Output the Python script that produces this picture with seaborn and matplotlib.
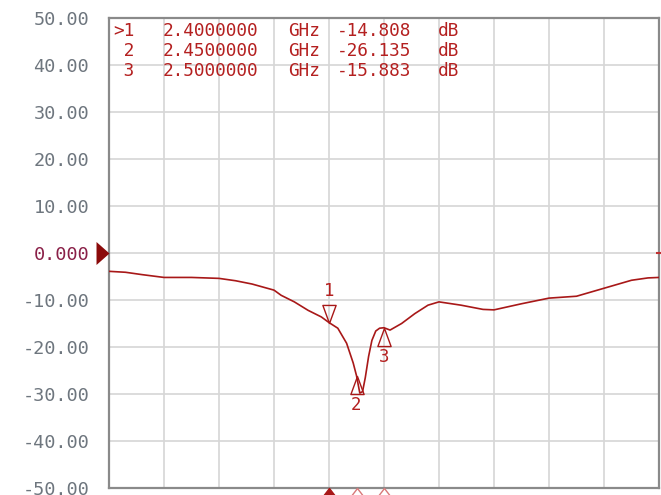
import numpy as np
import pandas as pd
import matplotlib
matplotlib.use("Agg")
import matplotlib.pyplot as plt
from matplotlib.path import Path
import seaborn as sns

# S11 trace (frequency in GHz, magnitude in dB)
freq_ghz = [2.000, 2.030, 2.060, 2.100, 2.150, 2.200, 2.230, 2.260, 2.300,
            2.313, 2.337, 2.362, 2.386, 2.400, 2.416, 2.432, 2.444, 2.450,
            2.456, 2.461, 2.466, 2.472, 2.478, 2.485, 2.492, 2.500, 2.511,
            2.532, 2.556, 2.580, 2.600, 2.640, 2.680, 2.700, 2.750, 2.800,
            2.850, 2.900, 2.950, 2.980, 3.000]
mag_db = [-3.9, -4.1, -4.6, -5.2, -5.2, -5.4, -5.9, -6.6, -7.9,
          -9.0, -10.4, -12.2, -13.6, -14.8, -16.0, -19.2, -23.4, -26.1,
          -29.8, -29.5, -26.5, -22.0, -18.6, -16.6, -16.0, -15.9, -16.4,
          -15.0, -12.9, -11.1, -10.4, -11.1, -12.0, -12.1, -10.8, -9.6,
          -9.2, -7.5, -5.8, -5.3, -5.2]

# Marker readouts
marker_ids = ["1", "2", "3"]
marker_freq = [2.40, 2.45, 2.50]
marker_db = [-14.808, -26.135, -15.883]

y_ticks = [50, 40, 30, 20, 10, 0, -10, -20, -30, -40, -50]
y_tick_labels = ["50.00", "40.00", "30.00", "20.00", "10.00", "0.000",
                 "-10.00", "-20.00", "-30.00", "-40.00", "-50.00"]
ref_level = 0.0

trace_color = "#a81818"
text_red = "#b42020"
label_gray = "#6e767e"

sns.set_style("white")
plt.rcParams["font.family"] = ["DejaVu Sans Mono", "DejaVu Sans"]

W, H = 661, 495
fig = plt.figure(figsize=(W / 100, H / 100), dpi=100)
ax = fig.add_axes([109 / W, 1 - 488 / H, 550 / W, 470 / H])

df = pd.DataFrame({"freq": freq_ghz, "mag": mag_db})
sns.lineplot(data=df, x="freq", y="mag", ax=ax, color=trace_color,
             linewidth=1.2, zorder=3)

ax.set_xlim(2.0, 3.0)
ax.set_ylim(-50, 50)
ax.set_xticks(np.linspace(2.0, 3.0, 11))
ax.set_yticks(y_ticks)
ax.set_yticklabels(y_tick_labels)
ax.set_xticklabels([])
ax.set_xlabel("")
ax.set_ylabel("")
ax.tick_params(axis="both", length=0)
ax.tick_params(axis="y", pad=14.4, labelsize=13.3, labelcolor=label_gray)
for lbl, val in zip(ax.get_yticklabels(), y_ticks):
    if val == ref_level:
        lbl.set_color("#8a2048")
ax.grid(True, color="#d6d6d6", linewidth=1.2)
ax.set_axisbelow(True)
for side, sp in ax.spines.items():
    sp.set_color("#8a8a8a")
    sp.set_linewidth(1.6)

# Marker symbols: active marker points down from above, others point up from below
down_tri = Path([(0, 0), (-0.55, 1.5), (0.55, 1.5), (0, 0)],
                [Path.MOVETO, Path.LINETO, Path.LINETO, Path.CLOSEPOLY])
up_tri = Path([(0, 0), (-0.55, -1.5), (0.55, -1.5), (0, 0)],
              [Path.MOVETO, Path.LINETO, Path.LINETO, Path.CLOSEPOLY])
for i, (mid, f, v) in enumerate(zip(marker_ids, marker_freq, marker_db)):
    active = i == 0
    ax.plot([f], [v], marker=down_tri if active else up_tri, markersize=26,
            markerfacecolor="none", markeredgecolor=trace_color,
            markeredgewidth=1.0, zorder=4)
    ax.annotate(mid, (f, v), xytext=(0, 22.5 if active else -21),
                textcoords="offset points", ha="center", va="center",
                color=text_red, fontsize=12.5)

# Marker position indicators under the graticule
stub = Path([(0, 0), (-1, -1.3), (1, -1.3), (0, 0)],
            [Path.MOVETO, Path.LINETO, Path.LINETO, Path.CLOSEPOLY])
for i, f in enumerate(marker_freq):
    ax.plot([f], [0], marker=stub, markersize=14, clip_on=False,
            transform=ax.get_xaxis_transform(),
            markerfacecolor=trace_color if i == 0 else "white",
            markeredgecolor=trace_color if i == 0 else "#d87878",
            markeredgewidth=1.0, zorder=5)

# Reference level arrow
ref_arrow = Path([(0, 0), (-1.13, 1), (-1.13, -1), (0, 0)],
                 [Path.MOVETO, Path.LINETO, Path.LINETO, Path.CLOSEPOLY])
ax.plot([0], [ref_level], marker=ref_arrow, markersize=18.7, clip_on=False,
        transform=ax.get_yaxis_transform(), color="#8b0a0a",
        markeredgewidth=0, zorder=5)
ax.plot([1], [ref_level], marker="_", markersize=5, clip_on=False,
        transform=ax.get_yaxis_transform(), color="#c03030",
        markeredgewidth=1.5, zorder=5)

# Marker readout table, laid out in fixed columns (pixel positions)
col_x = [113, 163, 288, 337, 438]
row_y = [31, 51, 71]
for i, (mid, f, v) in enumerate(zip(marker_ids, marker_freq, marker_db)):
    fields = [(">" if i == 0 else " ") + mid, f"{f:.7f}", "GHz", f"{v:.3f}", "dB"]
    for x, s in zip(col_x, fields):
        fig.text(x / W, 1 - row_y[i] / H, s, ha="left", va="center",
                 color=text_red, fontsize=12.8)

fig.savefig("out.png", dpi=100)
